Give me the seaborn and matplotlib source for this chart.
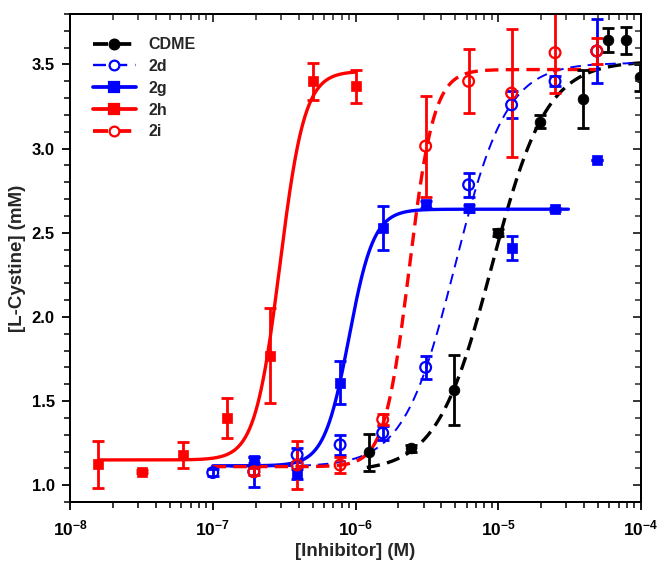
import numpy as np
import pandas as pd
import matplotlib
matplotlib.use("Agg")
import matplotlib.pyplot as plt
import seaborn as sns
from matplotlib.lines import Line2D
from matplotlib.ticker import FixedLocator, FixedFormatter, LogLocator, MultipleLocator, NullFormatter

# ---------------- data ----------------
series_names = ["CDME", "2d", "2g", "2h", "2i"]

cdme_x = [1.24e-6, 2.46e-6, 4.9e-6, 9.9e-6, 1.96e-5, 3.9e-5, 5.9e-5, 7.8e-5, 9.9e-5]
cdme_y = [1.195, 1.22, 1.565, 2.50, 3.16, 3.295, 3.645, 3.645, 3.425]
cdme_e = [0.11, 0.02, 0.21, 0.02, 0.04, 0.17, 0.07, 0.08, 0.08]

d2_x = [1.0e-7, 1.94e-7, 3.9e-7, 7.8e-7, 1.55e-6, 3.1e-6, 6.2e-6, 1.24e-5, 2.5e-5, 4.9e-5]
d2_y = [1.075, 1.08, 1.18, 1.24, 1.31, 1.70, 2.785, 3.26, 3.40, 3.58]
d2_e = [0.02, 0.09, 0.04, 0.06, 0.04, 0.07, 0.07, 0.08, 0.03, 0.19]

g2_x = [1.94e-7, 3.9e-7, 7.8e-7, 1.55e-6, 3.1e-6, 6.2e-6, 1.24e-5, 2.5e-5, 4.9e-5]
g2_y = [1.15, 1.065, 1.61, 2.53, 2.67, 2.645, 2.41, 2.64, 2.93]
g2_e = [0.02, 0.03, 0.13, 0.13, 0.02, 0.02, 0.07, 0.01, 0.0]

h2_x = [1.58e-8, 3.2e-8, 6.2e-8, 1.26e-7, 2.5e-7, 5.0e-7, 1.0e-6]
h2_y = [1.125, 1.08, 1.18, 1.40, 1.77, 3.40, 3.37]
h2_e = [0.14, 0.01, 0.075, 0.12, 0.28, 0.11, 0.10]

i2_x = [1.94e-7, 3.9e-7, 7.8e-7, 1.55e-6, 3.1e-6, 6.2e-6, 1.24e-5, 2.5e-5, 4.9e-5]
i2_y = [1.08, 1.12, 1.12, 1.39, 3.015, 3.40, 3.33, 3.57, 3.58]
i2_e = [0.02, 0.14, 0.05, 0.03, 0.30, 0.19, 0.38, 0.24, 0.08]

# fitted sigmoid parameters
fit_bottom = [1.08, 1.11, 1.115, 1.15, 1.11]
fit_top = [3.52, 3.51, 2.64, 3.46, 3.47]
fit_ec50 = [9.0e-6, 5.0e-6, 9.0e-7, 2.95e-7, 2.38e-6]
fit_hill = [2.26, 2.4, 5.0, 5.0, 5.0]
fit_from = [1.2e-6, 1.0e-7, 1.0e-7, 1.58e-8, 1.0e-7]
fit_to = [1.0e-4, 1.0e-4, 3.1e-5, 1.0e-6, 5.0e-5]

x_tick_vals = [1e-8, 1e-7, 1e-6, 1e-5, 1e-4]
x_tick_labels = [r"$10^{-8}$", r"$10^{-7}$", r"$10^{-6}$", r"$10^{-5}$", r"$10^{-4}$"]
y_tick_vals = [1.0, 1.5, 2.0, 2.5, 3.0, 3.5]
y_tick_labels = ["1.0", "1.5", "2.0", "2.5", "3.0", "3.5"]

# ---------------- styling ----------------
sns.set_theme(style="white")
plt.rcParams["font.family"] = ["Liberation Sans", "DejaVu Sans"]
plt.rcParams["font.weight"] = "bold"
plt.rcParams["mathtext.fontset"] = "custom"
plt.rcParams["mathtext.rm"] = "Liberation Sans:bold"
plt.rcParams["mathtext.it"] = "Liberation Sans:bold"
plt.rcParams["mathtext.bf"] = "Liberation Sans:bold"
plt.rcParams["mathtext.default"] = "rm"

RED = "#ff0000"
BLUE = "#0000ff"
BLACK = "#000000"

styles = {
    "CDME": dict(color=BLACK, ls=(0, (4.0, 2.2)), lw=2.4, marker="o", filled=True),
    "2d": dict(color=BLUE, ls=(0, (5.5, 3.5)), lw=1.4, marker="o", filled=False),
    "2g": dict(color=BLUE, ls="-", lw=2.4, marker="s", filled=True),
    "2h": dict(color=RED, ls="-", lw=2.4, marker="s", filled=True),
    "2i": dict(color=RED, ls=(0, (4.0, 2.2)), lw=2.4, marker="o", filled=False),
}

points = {
    "CDME": (cdme_x, cdme_y, cdme_e),
    "2d": (d2_x, d2_y, d2_e),
    "2g": (g2_x, g2_y, g2_e),
    "2h": (h2_x, h2_y, h2_e),
    "2i": (i2_x, i2_y, i2_e),
}

fig = plt.figure(figsize=(6.63, 5.68), dpi=100)
ax = fig.add_axes([70 / 663, (568 - 502) / 568, 571 / 663, 488 / 568])

# fitted curves
for k, name in enumerate(series_names):
    st = styles[name]
    xs = np.logspace(np.log10(fit_from[k]), np.log10(fit_to[k]), 400)
    ys = fit_bottom[k] + (fit_top[k] - fit_bottom[k]) / (1 + (fit_ec50[k] / xs) ** fit_hill[k])
    dfc = pd.DataFrame({"x": xs, "y": ys})
    sns.lineplot(data=dfc, x="x", y="y", ax=ax, color=st["color"], linewidth=st["lw"],
                 linestyle=st["ls"], zorder=2, estimator=None, sort=False)

# error bars and markers
for name in series_names:
    st = styles[name]
    x, y, e = points[name]
    ax.errorbar(x, y, yerr=e, fmt="none", ecolor=st["color"], elinewidth=2.0,
                capsize=4.5, capthick=2.0, zorder=3)
    dfp = pd.DataFrame({"x": x, "y": y})
    if st["filled"]:
        sns.scatterplot(data=dfp, x="x", y="y", ax=ax, marker=st["marker"], s=60,
                        color=st["color"], edgecolor=st["color"], linewidth=0.5, zorder=4)
    else:
        sns.scatterplot(data=dfp, x="x", y="y", ax=ax, marker=st["marker"], s=60,
                        facecolor="none", edgecolor=st["color"], linewidth=1.6, zorder=4)

ax.set_xscale("log")
ax.set_xlim(1e-8, 1e-4)
ax.set_ylim(0.9, 3.8)

ax.xaxis.set_major_locator(FixedLocator(x_tick_vals))
ax.xaxis.set_major_formatter(FixedFormatter(x_tick_labels))
ax.xaxis.set_minor_locator(LogLocator(base=10, subs=np.arange(2, 10), numticks=20))
ax.xaxis.set_minor_formatter(NullFormatter())
ax.yaxis.set_major_locator(FixedLocator(y_tick_vals))
ax.yaxis.set_major_formatter(FixedFormatter(y_tick_labels))
ax.yaxis.set_minor_locator(MultipleLocator(0.1))

ax.tick_params(axis="both", which="major", direction="out", length=6, width=1.3, colors=BLACK)
ax.tick_params(axis="both", which="minor", direction="out", length=4, width=1.1, colors=BLACK)
ax.tick_params(axis="x", which="major", pad=6, labelsize=12.5)
ax.tick_params(axis="y", which="major", pad=5, labelsize=12)
for lab in ax.get_yticklabels():
    lab.set_fontweight("bold")

# mirrored inward ticks on top and right
axt = ax.twiny()
axt.set_xscale("log")
axt.set_xlim(ax.get_xlim())
axt.xaxis.set_major_locator(FixedLocator(x_tick_vals))
axt.xaxis.set_minor_locator(LogLocator(base=10, subs=np.arange(2, 10), numticks=20))
axt.xaxis.set_major_formatter(NullFormatter())
axt.xaxis.set_minor_formatter(NullFormatter())
axt.tick_params(axis="x", which="major", direction="in", length=6, width=1.3)
axt.tick_params(axis="x", which="minor", direction="in", length=4, width=1.1)
axr = ax.twinx()
axr.set_ylim(ax.get_ylim())
axr.yaxis.set_major_locator(FixedLocator(y_tick_vals))
axr.yaxis.set_minor_locator(MultipleLocator(0.1))
axr.yaxis.set_major_formatter(NullFormatter())
axr.tick_params(axis="y", which="major", direction="in", length=6, width=1.3)
axr.tick_params(axis="y", which="minor", direction="in", length=4, width=1.1)
axt.grid(False)
axr.grid(False)

for a in (ax, axt, axr):
    for sp in a.spines.values():
        sp.set_color(BLACK)
        sp.set_linewidth(1.4)
        sp.set_visible(True)

ax.set_xlabel("[Inhibitor] (M)", fontsize=13.5, fontweight="bold", labelpad=3)
ax.set_ylabel("[L-Cystine] (mM)", fontsize=13.5, fontweight="bold", labelpad=4)
ax.grid(False)

# legend
handles = []
for name in series_names:
    st = styles[name]
    handles.append(Line2D([0], [0], color=st["color"], linestyle=st["ls"], linewidth=st["lw"] + 0.3,
                          marker=st["marker"], markersize=7,
                          markerfacecolor=st["color"] if st["filled"] else "white",
                          markeredgecolor=st["color"], markeredgewidth=1.6))
leg = ax.legend(handles, series_names, loc="upper left", bbox_to_anchor=(0.02, 0.975),
                frameon=False, fontsize=11.5, handlelength=2.7, handletextpad=0.8,
                labelspacing=0.42, borderaxespad=0.3)
for t in leg.get_texts():
    t.set_fontweight("bold")

fig.savefig("out.png", dpi=100)
